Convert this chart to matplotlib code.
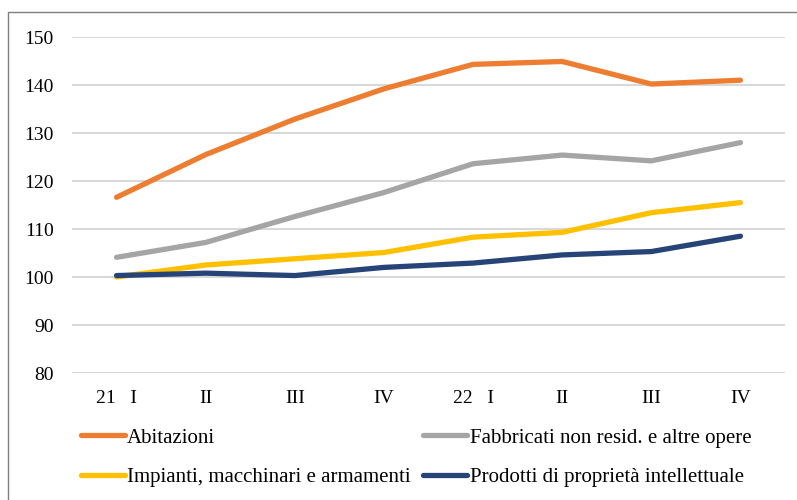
import matplotlib.pyplot as plt
from matplotlib.patches import Rectangle

# quarters, 2021 Q1 - 2022 Q4
quarters = ["21   I", "II", "III", "IV", "22   I", "II", "III", "IV"]

abitazioni = [116.6, 125.5, 132.9, 139.2, 144.3, 144.9, 140.2, 141.0]
fabbricati = [104.1, 107.2, 112.6, 117.6, 123.6, 125.4, 124.2, 128.0]
impianti = [100.0, 102.5, 103.8, 105.1, 108.3, 109.3, 113.4, 115.5]
prodotti = [100.3, 100.8, 100.3, 102.0, 102.9, 104.6, 105.3, 108.5]

labels = ["Abitazioni", "Fabbricati non resid. e altre opere",
          "Impianti, macchinari e armamenti", "Prodotti di proprietà intellettuale"]
colors = ["#ED7D31", "#A5A5A5", "#FFC000", "#264478"]

plt.rcParams['font.family'] = ['Liberation Serif', 'DejaVu Serif']

fig = plt.figure(figsize=(7.97, 5.0), dpi=100)

# outer chart frame (cut at right and bottom like the source)
fig.patches.append(Rectangle((8 / 797, -0.1), 1.2, 1 - 12 / 500 + 0.1,
                             transform=fig.transFigure, fill=False,
                             edgecolor="#7f7f7f", linewidth=1.0))

ax = fig.add_axes([72 / 797, 1 - 373 / 500, 713 / 797, 336 / 500])

x = list(range(len(quarters)))
series = [abitazioni, fabbricati, impianti, prodotti]
handles = []
for vals, lab, col in zip(series, labels, colors):
    h, = ax.plot(x, vals, color=col, linewidth=3.8, label=lab,
                 solid_capstyle="round", solid_joinstyle="round")
    handles.append(h)

ax.set_xlim(-0.5, len(quarters) - 0.5)
ax.set_ylim(80, 150)
ax.set_yticks(range(80, 151, 10))
ax.grid(axis="y", color="#d9d9d9", linewidth=1.5)
ax.set_axisbelow(True)
for s in ax.spines.values():
    s.set_visible(False)
ax.tick_params(axis="both", length=0, labelsize=14, colors="#000000")
ax.tick_params(axis="y", pad=13)
ax.tick_params(axis="x", pad=12)
ax.set_xticks(x)
ax.set_xticklabels(quarters)

# legend filled row by row: matplotlib fills by column, so reorder
order = [0, 2, 1, 3]
fig.legend([handles[i] for i in order], [labels[i] for i in order],
           loc="upper left", bbox_to_anchor=(81 / 797, 1 - 428 / 500),
           ncol=2, frameon=False, fontsize=15, handlelength=2.1,
           handletextpad=0.12, columnspacing=0.6, labelspacing=0.95,
           borderaxespad=0, borderpad=0)

fig.savefig("out.png", dpi=100)
